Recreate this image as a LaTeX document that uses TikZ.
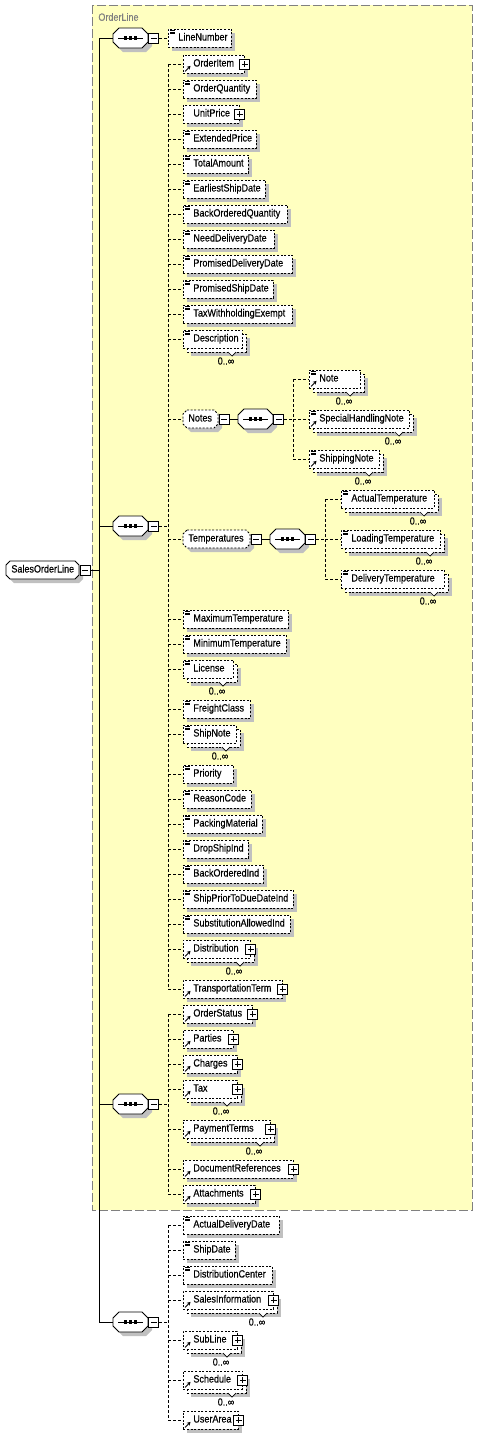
\documentclass[tikz,border=0pt]{standalone}
\usepackage{fontspec}
\setmainfont[FakeStretch=0.86,FakeBold=0.3]{Liberation Sans}
\usetikzlibrary{arrows.meta}
\definecolor{bgyellow}{RGB}{255,255,192}
\definecolor{shgray}{RGB}{192,192,192}
\definecolor{bordergray}{RGB}{128,128,128}

\newcommand\ChamPath[5]{(#1+#5,#2) -- (#3-#5,#2) -- (#3,#2+#5) -- (#3,#4-#5) -- (#3-#5,#4) -- (#1+#5,#4) -- (#1,#4-#5) -- (#1,#2+#5) -- cycle}

% plain element box: [opts]{name}{left}{y}{right}{label}
\newcommand\XEl[6][]{%
  \fill[shgray] (#3+4,#4-5) rectangle (#5+4,#4+13);
  \node[elbox,#1] (#2) at (#3,#4) {\makebox[\dimexpr#5pt-#3pt\relax][l]{\hspace*{10pt}#6}};
}
% multiple-occurrence element box
\newcommand\XElM[6][]{%
  \fill[shgray] (#3+8,#4-1) rectangle (#5+8,#4+17);
  \filldraw[boxline,fill=white] (#3+4,#4-5) rectangle (#5+4,#4+13);
  \node[elbox,#1] (#2) at (#3,#4) {\makebox[\dimexpr#5pt-#3pt\relax][l]{\hspace*{10pt}#6}};
  \filldraw[fill=white,line width=0.7pt] (#5-14,#4+13) -- (#5-10,#4+17) -- (#5-6,#4+13);
  \node[mult] (#2-mult) at (#5-16,#4+22) {0..∞};
}
% chamfered (complex) element: [line opts]{name}{left}{y}{right}{label}
\newcommand\XCel[6][]{%
  \fill[shgray] \ChamPath{#3+4}{#4-5}{#5+4}{#4+13}{4};
  \filldraw[fill=white,#1] \ChamPath{#3}{#4-9}{#5}{#4+9}{4};
  \node[txtnode] (#2) at (#3,#4) {\makebox[\dimexpr#5pt-#3pt\relax][l]{\hspace*{5pt}#6}};
  \node[minusbox,anchor=west] (#2-m) at (#2.east) {};
}
% sequence compositor: {name}{left}{y}
\newcommand\XSeq[3]{%
  \fill[shgray] \ChamPath{#2+4}{#3-6}{#2+39}{#3+14}{6};
  \filldraw[fill=white] \ChamPath{#2}{#3-10}{#2+35}{#3+10}{6};
  \node[inner sep=0pt,minimum width=35pt,minimum height=20pt] (#1) at (#2+17.5,#3) {};
  \draw (#2+5,#3) -- (#2+30,#3);
  \foreach \ii in {12.5,17.5,22.5}{\fill (#2+\ii-1.6,#3-1.6) rectangle (#2+\ii+1.6,#3+1.6);}
  \node[minusbox,anchor=west] (#1-m) at (#1.east) {};
}
\newcommand\XDoc[1]{\foreach \ii in {1.5,3.3,5.1}{\draw[line width=0.7pt] ([xshift=2pt,yshift=-\ii pt]#1.north west) -- ([xshift=7pt,yshift=-\ii pt]#1.north west);}}
\newcommand\XRef[1]{\draw[line width=0.9pt,-{Stealth[length=3.5pt,width=4pt]}] ([xshift=2pt,yshift=2pt]#1.south west) -- ([xshift=7.5pt,yshift=7.5pt]#1.south west);}
\newcommand\XPlus[1]{\node[plusbox] (#1-plus) at (#1.east) {};}

\begin{document}
\begin{tikzpicture}[x=1pt,y=-1pt,line width=0.8pt,
  font=\fontsize{10.5pt}{12pt}\selectfont,
  boxline/.style={dash pattern=on 2pt off 1.6pt},
  conn/.style={dash pattern=on 3pt off 2pt},
  elbox/.style={draw,fill=white,boxline,anchor=west,inner xsep=0pt,inner ysep=0pt,
    minimum height=18pt,text height=7.5pt,text depth=2.5pt},
  txtnode/.style={anchor=west,inner sep=0pt,minimum height=18pt,text height=7.5pt,text depth=2.5pt},
  mult/.style={inner sep=0pt},
  minusbox/.style={draw,solid,fill=white,minimum size=10pt,inner sep=0pt,
    path picture={\draw ([xshift=2pt]path picture bounding box.west) -- ([xshift=-2pt]path picture bounding box.east);}},
  plusbox/.style={draw,solid,fill=white,minimum size=10pt,inner sep=0pt,
    path picture={\draw ([xshift=2pt]path picture bounding box.west) -- ([xshift=-2pt]path picture bounding box.east);
                  \draw ([yshift=2pt]path picture bounding box.south) -- ([yshift=-2pt]path picture bounding box.north);}}
]
\useasboundingbox (0,0) rectangle (477,1435);
\fill[white] (0,0) rectangle (477,1435);
% OrderLine group
\filldraw[draw=bordergray,fill=bgyellow,line width=1pt,dash pattern=on 9pt off 3pt] (92,5) rectangle (472,1210);
\node[anchor=west,inner sep=0pt,text=bordergray] (grp) at (98,17) {OrderLine};

% root
\XCel[solid]{root}{6}{570}{79}{SalesOrderLine}

% compositors
\XSeq{s1}{113}{38}
\XSeq{s2}{113}{526}
\XSeq{s3}{113}{1104}
\XSeq{s4}{113}{1322}

% seq 1
\XEl{LineNumber}{168}{38}{231}{LineNumber}\XDoc{LineNumber}

% seq 2
\XEl{OrderItem}{183}{64}{244}{OrderItem}\XRef{OrderItem}\XPlus{OrderItem}
\XEl{OrderQuantity}{183}{89}{256}{OrderQuantity}\XDoc{OrderQuantity}
\XEl{UnitPrice}{183}{114}{239}{UnitPrice}\XPlus{UnitPrice}
\XEl{ExtendedPrice}{183}{139}{256}{ExtendedPrice}\XDoc{ExtendedPrice}
\XEl{TotalAmount}{183}{164}{248}{TotalAmount}\XDoc{TotalAmount}
\XEl{EarliestShipDate}{183}{189}{265}{EarliestShipDate}\XDoc{EarliestShipDate}
\XEl{BackOrderedQuantity}{183}{214}{287}{BackOrderedQuantity}\XDoc{BackOrderedQuantity}
\XEl{NeedDeliveryDate}{183}{239}{274}{NeedDeliveryDate}\XDoc{NeedDeliveryDate}
\XEl{PromisedDeliveryDate}{183}{264}{292}{PromisedDeliveryDate}\XDoc{PromisedDeliveryDate}
\XEl{PromisedShipDate}{183}{289}{273}{PromisedShipDate}\XDoc{PromisedShipDate}
\XEl{TaxWithholdingExempt}{183}{314}{292}{TaxWithholdingExempt}\XDoc{TaxWithholdingExempt}
\XElM{Description}{183}{339}{242}{Description}\XDoc{Description}
\XCel[boxline]{Notes}{183}{419}{218}{Notes}
\XCel[boxline]{Temperatures}{183}{539}{250}{Temperatures}
\XEl{MaximumTemperature}{183}{619}{288}{MaximumTemperature}\XDoc{MaximumTemperature}
\XEl{MinimumTemperature}{183}{644}{286}{MinimumTemperature}\XDoc{MinimumTemperature}
\XElM{License}{183}{669}{233}{License}\XDoc{License}
\XEl{FreightClass}{183}{709}{250}{FreightClass}\XDoc{FreightClass}
\XElM{ShipNote}{183}{734}{236}{ShipNote}\XDoc{ShipNote}
\XEl{Priority}{183}{774}{233}{Priority}\XDoc{Priority}
\XEl{ReasonCode}{183}{799}{251}{ReasonCode}\XDoc{ReasonCode}
\XEl{PackingMaterial}{183}{824}{262}{PackingMaterial}\XDoc{PackingMaterial}
\XEl{DropShipInd}{183}{849}{248}{DropShipInd}\XDoc{DropShipInd}
\XEl{BackOrderedInd}{183}{874}{263}{BackOrderedInd}\XDoc{BackOrderedInd}
\XEl{ShipPriorToDueDateInd}{183}{899}{293}{ShipPriorToDueDateInd}\XDoc{ShipPriorToDueDateInd}
\XEl{SubstitutionAllowedInd}{183}{924}{290}{SubstitutionAllowedInd}\XDoc{SubstitutionAllowedInd}
\XElM{Distribution}{183}{949}{250}{Distribution}\XRef{Distribution}\XPlus{Distribution}
\XEl{TransportationTerm}{183}{989}{282}{TransportationTerm}\XRef{TransportationTerm}\XPlus{TransportationTerm}

% Notes subtree
\XSeq{sn}{238}{419}
\XElM{Note}{309}{379}{360}{Note}\XDoc{Note}\XRef{Note}
\XElM{SpecialHandlingNote}{309}{419}{409}{SpecialHandlingNote}\XDoc{SpecialHandlingNote}\XRef{SpecialHandlingNote}
\XElM{ShippingNote}{309}{459}{379}{ShippingNote}\XDoc{ShippingNote}\XRef{ShippingNote}

% Temperatures subtree
\XSeq{st}{270}{539}
\XElM{ActualTemperature}{341}{499}{434}{ActualTemperature}\XDoc{ActualTemperature}
\XElM{LoadingTemperature}{341}{539}{440}{LoadingTemperature}\XDoc{LoadingTemperature}
\XElM{DeliveryTemperature}{341}{579}{444}{DeliveryTemperature}\XDoc{DeliveryTemperature}

% seq 3
\XEl{OrderStatus}{183}{1014}{252}{OrderStatus}\XRef{OrderStatus}\XPlus{OrderStatus}
\XEl{Parties}{183}{1039}{233}{Parties}\XRef{Parties}\XPlus{Parties}
\XEl{Charges}{183}{1064}{237}{Charges}\XRef{Charges}\XPlus{Charges}
\XElM{Tax}{183}{1089}{237}{Tax}\XRef{Tax}\XPlus{Tax}
\XElM{PaymentTerms}{183}{1129}{270}{PaymentTerms}\XRef{PaymentTerms}\XPlus{PaymentTerms}
\XEl{DocumentReferences}{183}{1169}{293}{DocumentReferences}\XRef{DocumentReferences}\XPlus{DocumentReferences}
\XEl{Attachments}{183}{1194}{255}{Attachments}\XRef{Attachments}\XPlus{Attachments}

% seq 4
\XEl{ActualDeliveryDate}{183}{1225}{279}{ActualDeliveryDate}\XDoc{ActualDeliveryDate}
\XEl{ShipDate}{183}{1250}{235}{ShipDate}\XDoc{ShipDate}
\XEl{DistributionCenter}{183}{1275}{272}{DistributionCenter}\XDoc{DistributionCenter}
\XElM{SalesInformation}{183}{1300}{273}{SalesInformation}\XRef{SalesInformation}\XPlus{SalesInformation}
\XElM{SubLine}{183}{1340}{237}{SubLine}\XRef{SubLine}\XPlus{SubLine}
\XElM{Schedule}{183}{1380}{242}{Schedule}\XRef{Schedule}\XPlus{Schedule}
\XEl{UserArea}{183}{1420}{238}{UserArea}\XRef{UserArea}\XPlus{UserArea}

% ---- connectors ----
\coordinate (tr) at (99,0);
\coordinate (vc) at (168,0);
\coordinate (vn) at (293,0);
\coordinate (vt) at (325,0);
\draw (root-m.east) -- (root-m.east -| tr);
\draw (s1.west -| tr) -- (s4.west -| tr);
\foreach \s in {s1,s2,s3,s4} \draw (\s.west -| tr) -- (\s.west);
\draw[conn] (s1-m.east) -- (LineNumber.west);
% seq 2
\draw[conn] (s2-m.east) -- (s2-m.east -| vc);
\draw[conn] (OrderItem.west -| vc) -- (TransportationTerm.west -| vc);
\foreach \n in {OrderItem,OrderQuantity,UnitPrice,ExtendedPrice,TotalAmount,EarliestShipDate,
  BackOrderedQuantity,NeedDeliveryDate,PromisedDeliveryDate,PromisedShipDate,TaxWithholdingExempt,
  Description,Notes,Temperatures,MaximumTemperature,MinimumTemperature,License,FreightClass,ShipNote,
  Priority,ReasonCode,PackingMaterial,DropShipInd,BackOrderedInd,ShipPriorToDueDateInd,
  SubstitutionAllowedInd,Distribution,TransportationTerm}
  \draw[conn] (\n.west -| vc) -- (\n.west);
% seq 3
\draw[conn] (s3-m.east) -- (s3-m.east -| vc);
\draw[conn] (OrderStatus.west -| vc) -- (Attachments.west -| vc);
\foreach \n in {OrderStatus,Parties,Charges,Tax,PaymentTerms,DocumentReferences,Attachments}
  \draw[conn] (\n.west -| vc) -- (\n.west);
% seq 4
\draw[conn] (s4-m.east) -- (s4-m.east -| vc);
\draw[conn] (ActualDeliveryDate.west -| vc) -- (UserArea.west -| vc);
\foreach \n in {ActualDeliveryDate,ShipDate,DistributionCenter,SalesInformation,SubLine,Schedule,UserArea}
  \draw[conn] (\n.west -| vc) -- (\n.west);
% Notes
\draw (Notes-m.east) -- (sn.west);
\draw[conn] (sn-m.east) -- (sn-m.east -| vn);
\draw[conn] (Note.west -| vn) -- (ShippingNote.west -| vn);
\foreach \n in {Note,SpecialHandlingNote,ShippingNote} \draw[conn] (\n.west -| vn) -- (\n.west);
% Temperatures
\draw (Temperatures-m.east) -- (st.west);
\draw[conn] (st-m.east) -- (st-m.east -| vt);
\draw[conn] (ActualTemperature.west -| vt) -- (DeliveryTemperature.west -| vt);
\foreach \n in {ActualTemperature,LoadingTemperature,DeliveryTemperature} \draw[conn] (\n.west -| vt) -- (\n.west);
\end{tikzpicture}
\end{document}
